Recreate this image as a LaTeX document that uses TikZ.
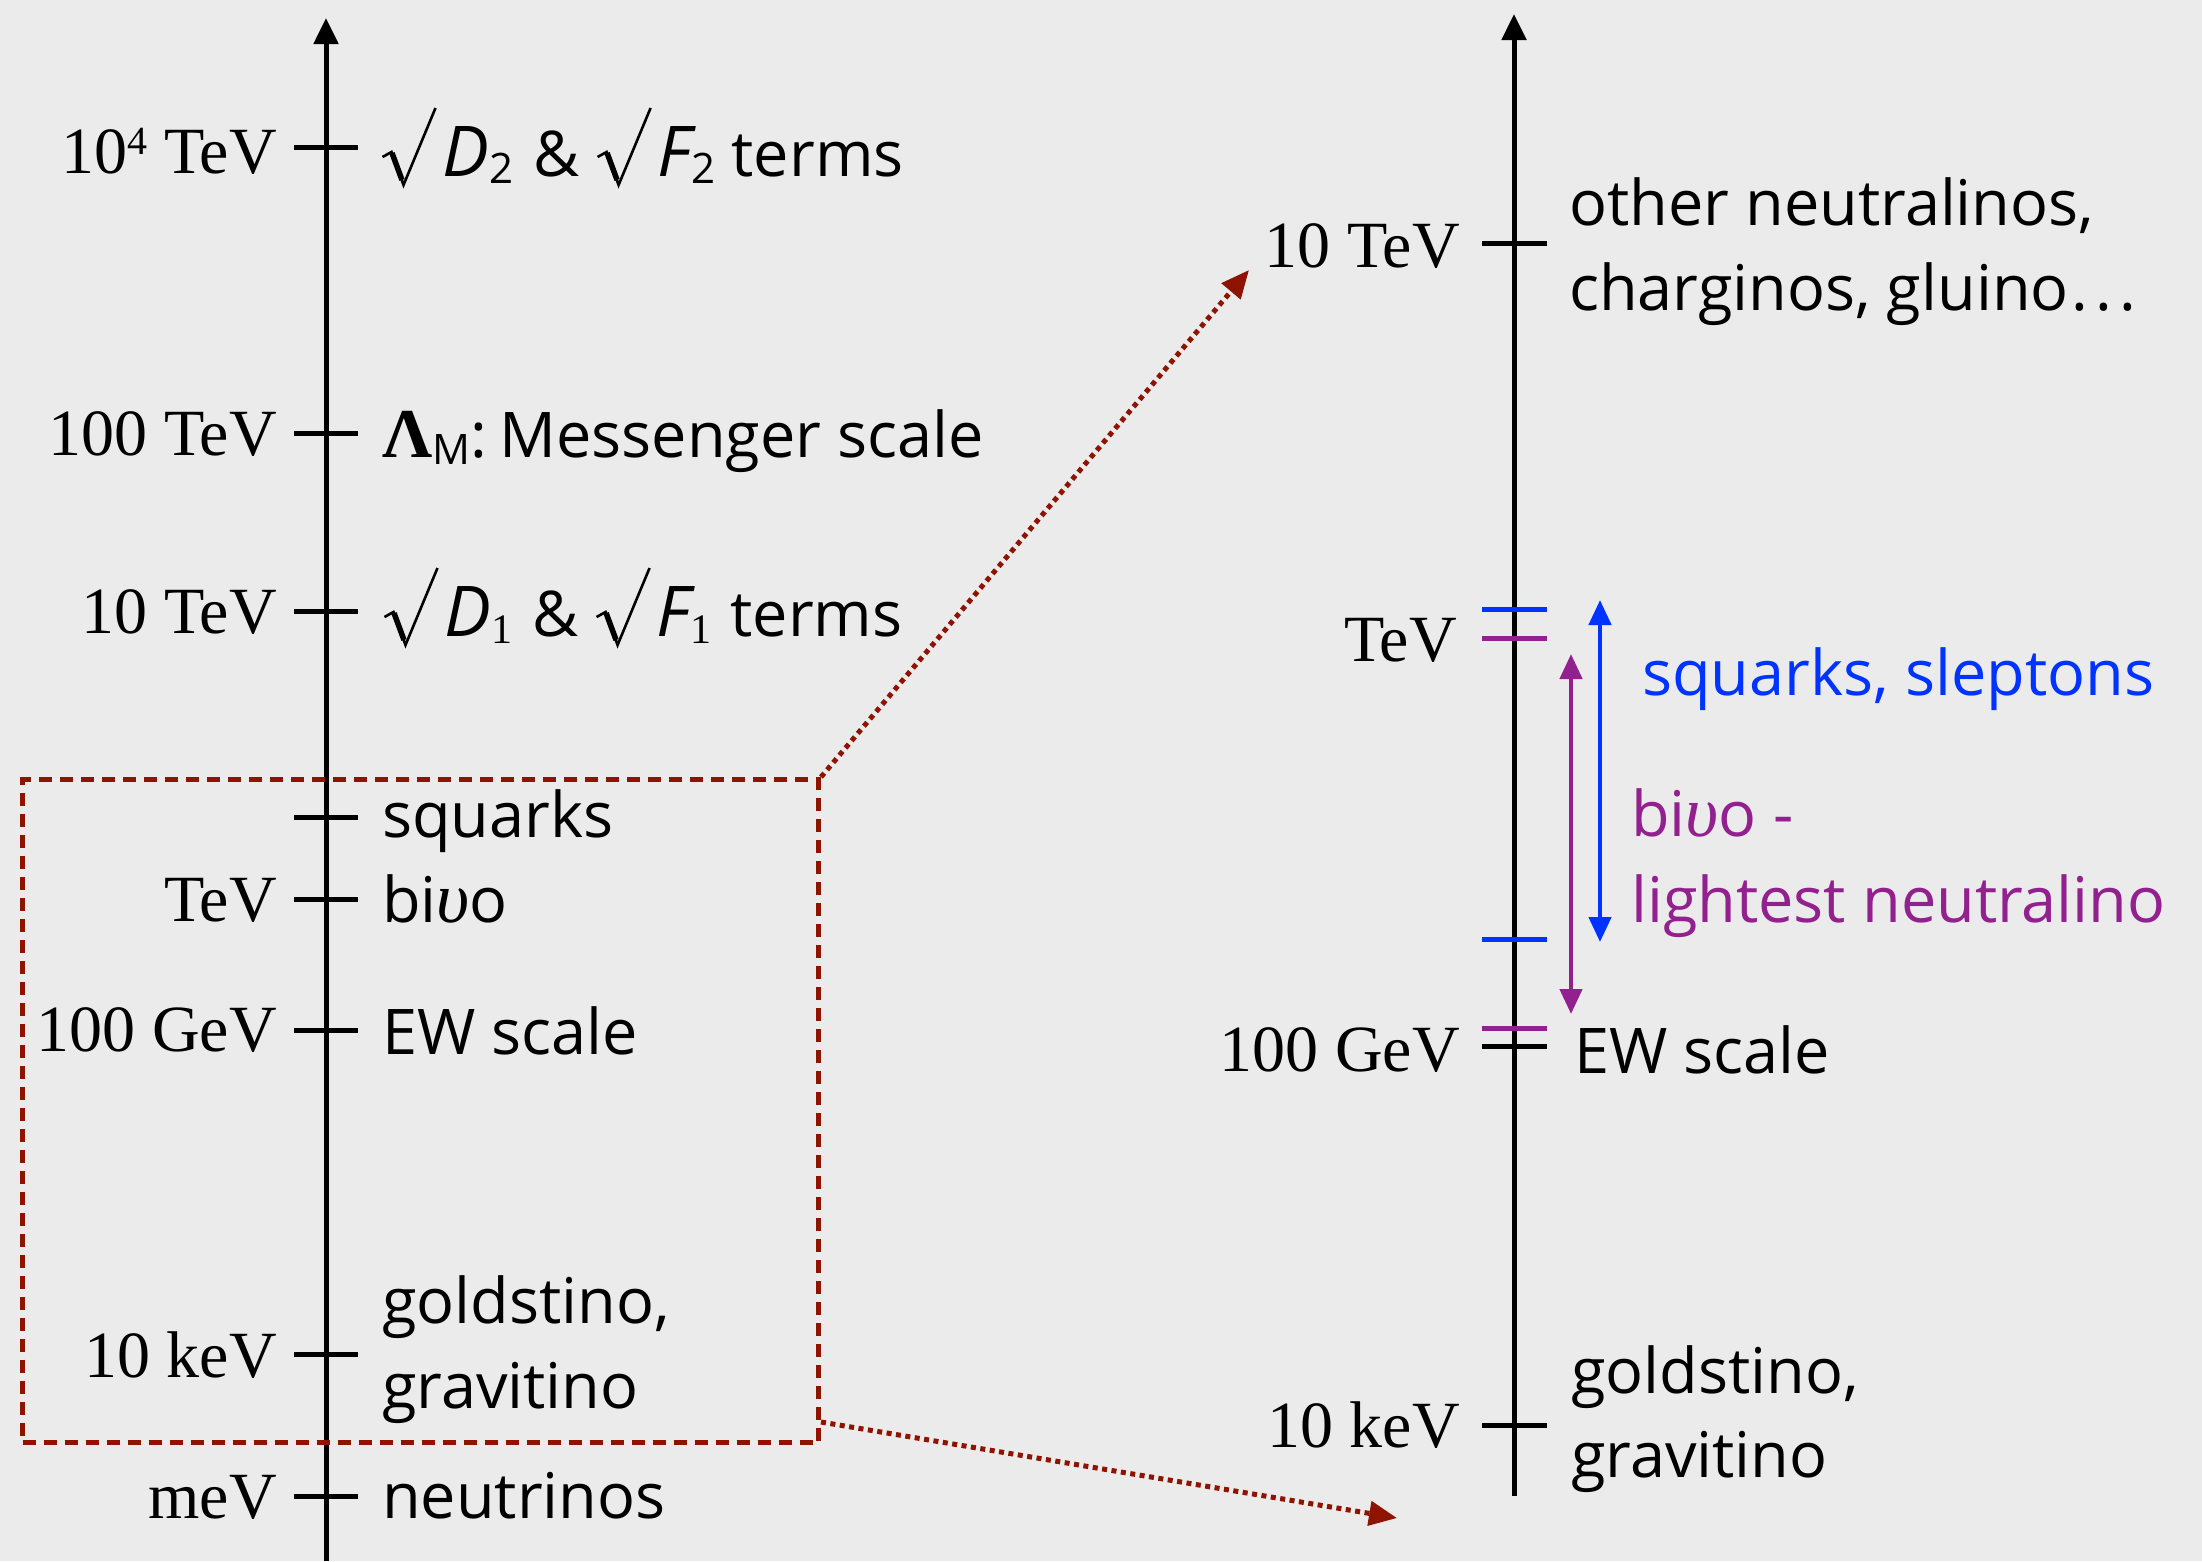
\documentclass[tikz,border=0pt]{standalone}
\usepackage{fontspec}
\setmainfont{Liberation Serif}
\newfontfamily\gs{Open Sans}
\newfontfamily\tnr{Liberation Serif}
\usetikzlibrary{arrows.meta}
\definecolor{bg}{HTML}{EBEBEB}
\definecolor{myblue}{HTML}{0033FF}
\definecolor{mypurple}{HTML}{93208F}
\definecolor{myred}{HTML}{8E1300}
\newcommand{\serifsize}{\fontsize{66}{72}\selectfont}
\newcommand{\sanssize}{\fontsize{63}{70}\selectfont}
\newcommand{\myroot}{\tikz[baseline=0pt,x=1pt,y=1pt,line join=miter]{%
  \draw[line width=2.6pt] (0,19)--(9,24)--(21,-9)--(53,68);
  \draw[line width=5.5pt] (9.5,23)--(19.5,-4);}\kern6pt}
\newcommand{\bigit}[1]{{\fontsize{70}{70}\selectfont\itshape #1}}
\newcommand{\subs}[1]{\raisebox{-0.22ex}{\fontsize{42}{42}\selectfont #1}}
\newcommand{\supr}[1]{\raisebox{0.62ex}{\fontsize{40}{40}\selectfont #1}}
\begin{document}
\begin{tikzpicture}[x=1pt,y=-1pt,
  axis/.style={line width=5pt,-{Triangle[length=26pt,width=24pt]}},
  tickmark/.style={line width=5pt},
  lab/.style={font=\serifsize,inner sep=0pt,anchor=base east},
  txt/.style={font=\gs\sanssize,inner sep=0pt,anchor=base west},
  zoomline/.style={myred,line width=5pt,dash pattern=on 5pt off 4.5pt,-{Triangle[length=28pt,width=24pt]}},
  zoombox/.style={draw=myred,line width=5pt,dash pattern=on 13pt off 8pt,inner sep=0pt,anchor=north west},
  rangearrow/.style={line width=4.5pt,{Triangle[length=25pt,width=22pt]}-{Triangle[length=25pt,width=22pt]}}]
\fill[bg] (0,0) rectangle (2202,1561);
\useasboundingbox (0,0) rectangle (2202,1561);

% ---------- left axis ----------
\coordinate (Lbot) at (326,1561);
\coordinate (Ltop) at (326,18);
\draw[axis] (Lbot) -- (Ltop);
\foreach \y in {147,433,611,817,899,1030,1354,1496}
  \draw[tickmark] (294,\y) -- (358,\y);

\node[lab] (l1) at (277,173) {10\supr{4} TeV};
\node[lab] (l2) at (277,455) {100 TeV};
\node[lab] (l3) at (277,633) {10 TeV};
\node[lab] (l4) at (277,921) {TeV};
\node[lab] (l5) at (277,1051) {100 GeV};
\node[lab] (l6) at (277,1377) {10 keV};
\node[lab] (l7) at (277,1518) {meV};

\node[txt] (t1) at (381,176) {\myroot\bigit{D}\subs{2}\kern4pt\ \&\ \myroot\bigit{F}\subs{2}\ terms};
\node[txt] (t2) at (382,457) {{\tnr\bfseries\fontsize{70}{70}\selectfont Λ}\subs{M}:\kern-4pt\ Messenger scale};
\node[txt] (t3) at (383,636) {\myroot\bigit{D}\subs{\tnr 1}\kern4pt\ \&\ \myroot\bigit{F}\subs{\tnr 1}\kern3pt\ terms};
\node[txt] (t4) at (382,837) {squarks};
\node[txt] (t5) at (382,922) {bi{\tnr\itshape\fontsize{72}{72}\selectfont υ}o};
\node[txt] (t6) at (382,1054) {EW scale};
\node[txt] (t7a) at (382,1323) {goldstino,};
\node[txt] (t7b) at (382,1408) {gravitino};
\node[txt] (t8) at (382,1518) {neutrinos};

% ---------- zoom box and arrows ----------
\node[zoombox,minimum width=796pt,minimum height=663pt] (zb) at (20,777) {};
\coordinate (z1) at (1249,270);
\coordinate (z2) at (1397,1518);
\draw[zoomline] (zb.north east) -- (z1);
\draw[zoomline] ([yshift=23pt]zb.south east) -- (z2);

% ---------- right axis ----------
\coordinate (Rbot) at (1514,1496);
\coordinate (Rtop) at (1514,14);
\draw[axis] (Rbot) -- (Rtop);
\draw[tickmark] (1482,243) -- (1547,243);
\draw[tickmark,myblue] (1482,609) -- (1547,609);
\draw[tickmark,mypurple] (1482,638) -- (1547,638);
\draw[tickmark,myblue] (1482,939) -- (1547,939);
\draw[tickmark,mypurple] (1482,1028) -- (1547,1028);
\draw[tickmark] (1482,1046) -- (1547,1046);
\draw[tickmark] (1482,1425) -- (1547,1425);

\node[lab] (r1) at (1460,267) {10 TeV};
\node[lab] (r2) at (1457,661) {TeV};
\node[lab] (r3) at (1460,1071) {100 GeV};
\node[lab] (r4) at (1460,1447) {10 keV};

\node[txt] (s1a) at (1569,225) {other neutralinos,};
\node[txt] (s1b) at (1569,310) {charginos, gluino\kern3pt.\kern7pt.\kern7pt.};
\node[txt,text=myblue] (s2) at (1642,695) {squarks, sleptons};
\node[txt,text=mypurple] (s3a) at (1631,836) {bi{\tnr\itshape\fontsize{72}{72}\selectfont υ}o -};
\node[txt,text=mypurple] (s3b) at (1631,922) {lightest neutralino};
\node[txt] (s4) at (1574,1073) {EW scale};
\node[txt] (s5a) at (1571,1393) {goldstino,};
\node[txt] (s5b) at (1571,1477) {gravitino};

\coordinate (bt) at (1600,600);
\coordinate (bb) at (1600,942);
\draw[rangearrow,myblue] (bb) -- (bt);
\coordinate (pt) at (1571,654);
\coordinate (pb) at (1571,1014);
\draw[rangearrow,mypurple] (pb) -- (pt);
\end{tikzpicture}
\end{document}
